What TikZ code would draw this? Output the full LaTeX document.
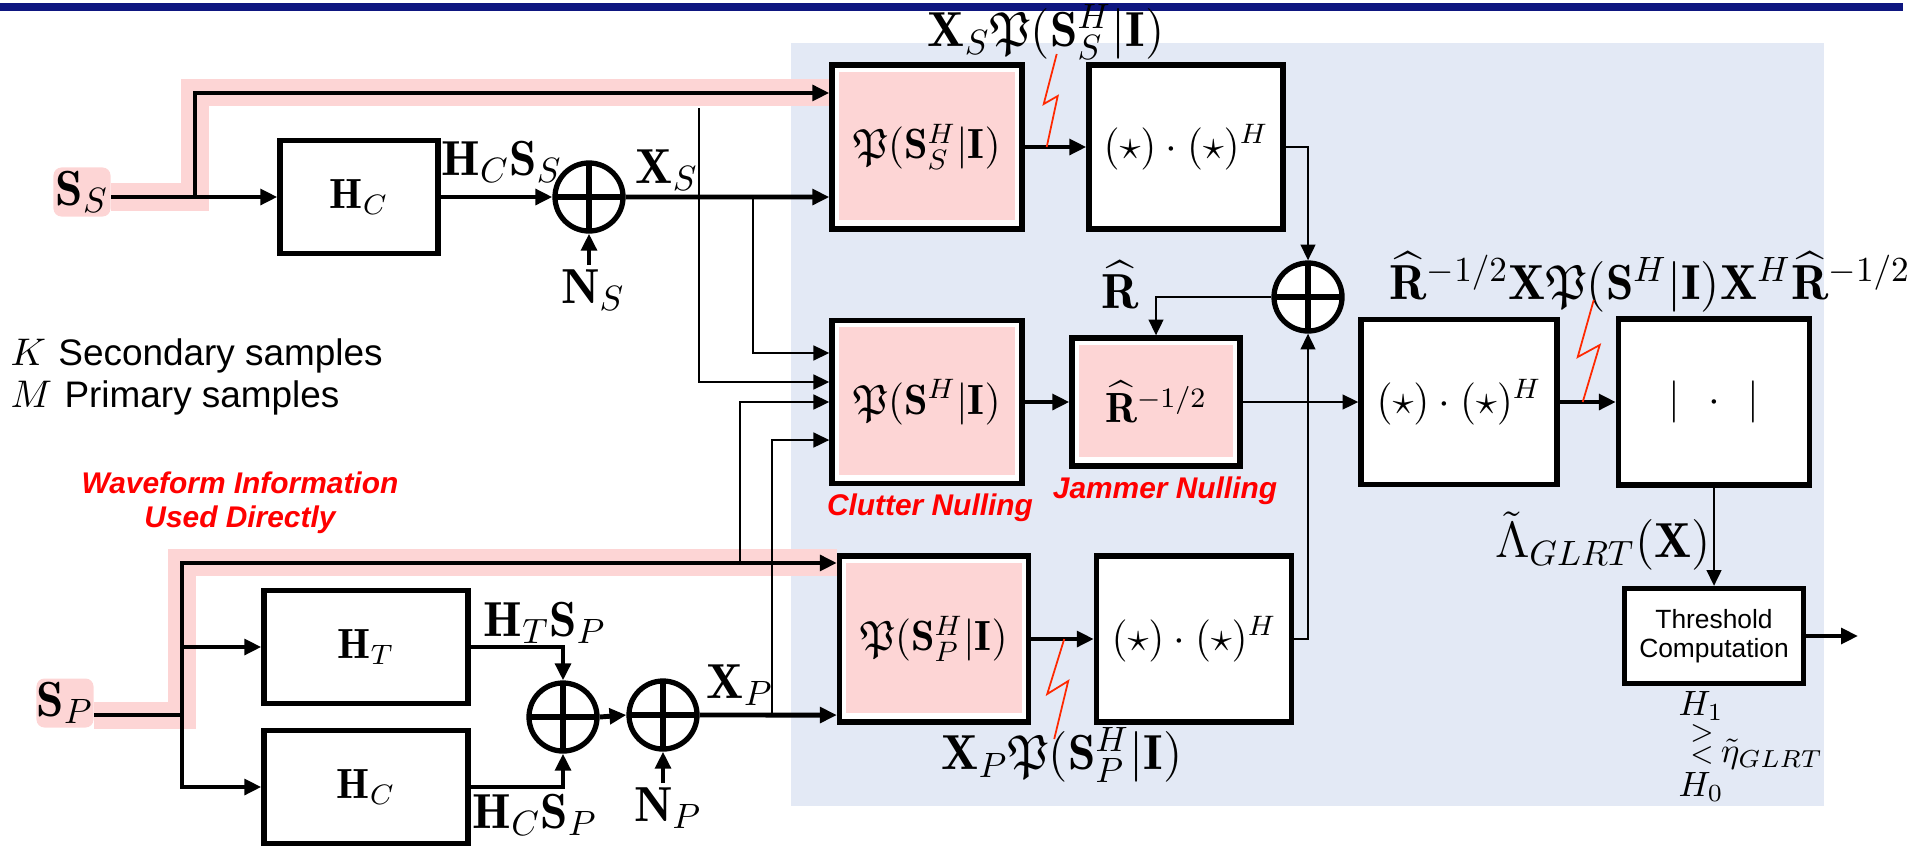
\documentclass[tikz,border=0pt]{standalone}
\usepackage{amsmath,amssymb}
\usepackage{fontspec}
\setsansfont{Liberation Sans}
\usepackage{tikz}
\usetikzlibrary{arrows.meta}
\definecolor{barblue}{RGB}{14,22,128}
\definecolor{bgblue}{RGB}{227,233,245}
\definecolor{pinkhl}{RGB}{253,213,213}
\definecolor{zigred}{RGB}{255,40,0}

\begin{document}
\begin{tikzpicture}[x=0.01cm,y=-0.01cm,
    box/.style={draw,line width=1.5pt,fill=white,inner sep=0pt,font=\fontsize{12}{14}\selectfont},
    pbox/.style={box,path picture={\fill[pinkhl] ([shift={(2pt,-2pt)}]path picture bounding box.north west) rectangle ([shift={(-2pt,2.5pt)}]path picture bounding box.south east);}},
    sumc/.style={circle,draw,line width=1.5pt,fill=white,minimum size=0.68cm,inner sep=0pt,
      path picture={\draw[line width=1.5pt] (path picture bounding box.north) -- (path picture bounding box.south) (path picture bounding box.west) -- (path picture bounding box.east);}},
    sig/.style={fill=pinkhl,rounded corners=0.08cm,inner sep=0pt,minimum width=0.57cm,minimum height=0.49cm,font=\fontsize{14}{16}\selectfont},
    lbl/.style={inner sep=1pt,font=\fontsize{14}{16}\selectfont},
    small/.style={inner sep=0pt,font=\fontsize{10}{12}\selectfont},
    redlbl/.style={inner sep=1pt,text=red,align=center,font=\sffamily\bfseries\itshape\fontsize{8.5}{9.7}\selectfont},
    band/.style={pinkhl,line width=0.27cm},
    thk/.style={line width=1.4pt,-{Triangle[length=4.8pt,width=4.4pt]}},
    thn/.style={line width=0.6pt,-{Triangle[length=4.5pt,width=4.2pt]}},
    zig/.style={zigred,line width=0.5pt}]
    \useasboundingbox (0,0) rectangle (1919,845);
    \fill[barblue] (0,3) rectangle (1903,11);
    \fill[bgblue] (791,43) rectangle (1824,806);

    \node[sig] (ssS) at (82,192) {$\mathbf{S}_S$};
    \node[sig] (ssP) at (65,703) {$\mathbf{S}_P$};

    \node[box,minimum width=1.58cm,minimum height=1.13cm] (hcs) at (359,197) {$\mathbf{H}_C$};
    \node[pbox,minimum width=1.90cm,minimum height=1.64cm] (psS) at (927,147) {$\mathfrak{P}(\mathbf{S}_S^H|\mathbf{I})$};
    \node[box,minimum width=1.94cm,minimum height=1.64cm] (starS) at (1186,147) {$(\star)\cdot(\star)^H$};
    \node[pbox,minimum width=1.90cm,minimum height=1.63cm] (psM) at (927,402) {$\mathfrak{P}(\mathbf{S}^H|\mathbf{I})$};
    \node[pbox,minimum width=1.68cm,minimum height=1.28cm] (rinv) at (1156,402) {$\widehat{\mathbf{R}}^{-1/2}$};
    \node[box,minimum width=1.96cm,minimum height=1.65cm] (starM) at (1459,402) {$(\star)\cdot(\star)^H$};
    \node[box,minimum width=1.91cm,minimum height=1.66cm] (absb) at (1714,402) {$|\;\,\cdot\;\,|$};
    \node[box,minimum width=1.79cm,minimum height=0.95cm,align=center,font=\sffamily\fontsize{7.5}{8.4}\selectfont] (thr) at (1714,636) {Threshold\\Computation};
    \node[pbox,minimum width=1.89cm,minimum height=1.66cm] (psP) at (934,639) {$\mathfrak{P}(\mathbf{S}_P^H|\mathbf{I})$};
    \node[box,minimum width=1.95cm,minimum height=1.66cm] (starP) at (1194,639) {$(\star)\cdot(\star)^H$};
    \node[box,minimum width=2.04cm,minimum height=1.13cm] (hT) at (366,647) {$\mathbf{H}_T$};
    \node[box,minimum width=2.04cm,minimum height=1.13cm] (hCP) at (366,787) {$\mathbf{H}_C$};

    \node[sumc] (plusS) at (589,197) {};
    \node[sumc] (plusM) at (1308,297) {};
    \node[sumc] (plusA) at (563,717) {};
    \node[sumc] (plusB) at (663,715) {};

    \node[lbl] (lhs) at (502,162) {$\mathbf{H}_C\mathbf{S}_S$};
    \node[lbl] (lxs) at (667,170) {$\mathbf{X}_S$};
    \node[lbl] (ns) at (593,290) {$\mathbf{N}_S$};
    \node[lbl] (ltop) at (1046,32) {$\mathbf{X}_S\mathfrak{P}(\mathbf{S}_S^H|\mathbf{I})$};
    \node[lbl] (lr) at (1120,285) {$\widehat{\mathbf{R}}$};
    \node[lbl] (llong) at (1650,282) {$\widehat{\mathbf{R}}^{-1/2}\mathbf{X}\mathfrak{P}(\mathbf{S}^H|\mathbf{I})\mathbf{X}^H\widehat{\mathbf{R}}^{-1/2}$};
    \node[lbl] (llam) at (1603,541) {$\tilde{\Lambda}_{GLRT}(\mathbf{X})$};
    \node[lbl] (lhts) at (545,623) {$\mathbf{H}_T\mathbf{S}_P$};
    \node[lbl] (lhcp) at (535,815) {$\mathbf{H}_C\mathbf{S}_P$};
    \node[lbl] (np) at (668,808) {$\mathbf{N}_P$};
    \node[lbl] (lxp) at (740,685) {$\mathbf{X}_P$};
    \node[lbl] (lbot) at (1062,755) {$\mathbf{X}_P\mathfrak{P}(\mathbf{S}_P^H|\mathbf{I})$};
    \node[redlbl] (lwave) at (240,503) {Waveform Information\\Used Directly};
    \node[redlbl] (lclut) at (930,508) {Clutter Nulling};
    \node[redlbl] (ljam) at (1165,491) {Jammer Nulling};
    \node[anchor=base west,inner sep=0pt,font=\fontsize{10.5}{12}\selectfont] (lk) at (10,365) {$K$ \sffamily Secondary samples};
    \node[anchor=base west,inner sep=0pt,font=\fontsize{10.5}{12}\selectfont] (lm) at (10,407) {$M$ \sffamily Primary samples};
    \node[small] (h1) at (1701,706) {$H_1$};
    \node[small,font=\fontsize{8.5}{10}\selectfont] (gt) at (1702,733) {$>$};
    \node[small,font=\fontsize{8.5}{10}\selectfont] (lt) at (1702,755) {$<$};
    \node[small] (eta) at (1772,754) {$\tilde{\eta}_{GLRT}$};
    \node[small] (h0) at (1701,787) {$H_0$};

    \coordinate (brS) at (195,197);
    \coordinate (brP) at (182,715);
    \coordinate (xsTop) at (699,108);
    \coordinate (xs1) at (753,197);
    \coordinate (sp1) at (740,563);
    \coordinate (xp1) at (772,715);
    \coordinate (out) at (1858,636);

    \draw[band] (ssS.east |- brS) -- (brS) |- ([yshift=0.54cm]psS.west);
    \draw[band] (ssP.east |- brP) -- (brP) |- ([yshift=0.76cm]psP.west);

    \draw[line width=1.4pt] (ssS.east |- brS) -- (brS);
    \draw[thk] (brS) -- (hcs.west);
    \draw[thk] (brS) |- ([yshift=0.54cm]psS.west);
    \draw[thk] (hcs.east) -- (plusS.west);
    \draw[thk] (plusS.east) -- ([yshift=-0.5cm]psS.west);
    \draw[thk] (ns.north -| plusS) -- (plusS.south);
    \draw[thn] (xsTop) |- ([yshift=0.2cm]psM.west);
    \draw[thn] (xs1) |- ([yshift=0.49cm]psM.west);
    \draw[thn] (sp1) |- (psM.west);
    \draw[thn] (xp1) |- ([yshift=-0.38cm]psM.west);
    \draw[thk] (psS.east) -- (starS.west);
    \draw[thn] (starS.east) -| (plusM.north);
    \draw[thn] (plusM.west) -| (rinv.north);
    \draw[thk] (psM.east) -- (rinv.west);
    \draw[thn] (rinv.east) -- (starM.west);
    \draw[thk] (starM.east) -- (absb.west);
    \draw[thn] (absb.south) -- (thr.north);
    \draw[thk] (thr.east) -- (out);
    \draw[thn] (starP.east) -| (plusM.south);

    \draw[line width=1.4pt] (ssP.east |- brP) -- (brP);
    \draw[thk] (brP) |- ([yshift=0.76cm]psP.west);
    \draw[thk] (brP) |- (hT.west);
    \draw[thk] (brP) |- (hCP.west);
    \draw[thk] (hT.east) -| (plusA.north);
    \draw[thk] (hCP.east) -| (plusA.south);
    \draw[thk] (plusA.east) -- (plusB.west);
    \draw[thk] (np.north -| plusB) -- (plusB.south);
    \draw[thk] (plusB.east) -- ([yshift=-0.76cm]psP.west);
    \draw[thk] (psP.east) -- (starP.west);

    \draw[zig] ([xshift=0.22cm]psS.east) -- ++(11,-51) -- ++(-14,8) -- ++(13,-50);
    \draw[zig] ([xshift=0.23cm]starM.east) -- ++(17,-57) -- ++(-22,12) -- ++(16,-57);
    \draw[zig] ([xshift=0.33cm]psP.east) -- ++(-17,55) -- ++(21,-13) -- ++(-14,58);
\end{tikzpicture}
\end{document}
